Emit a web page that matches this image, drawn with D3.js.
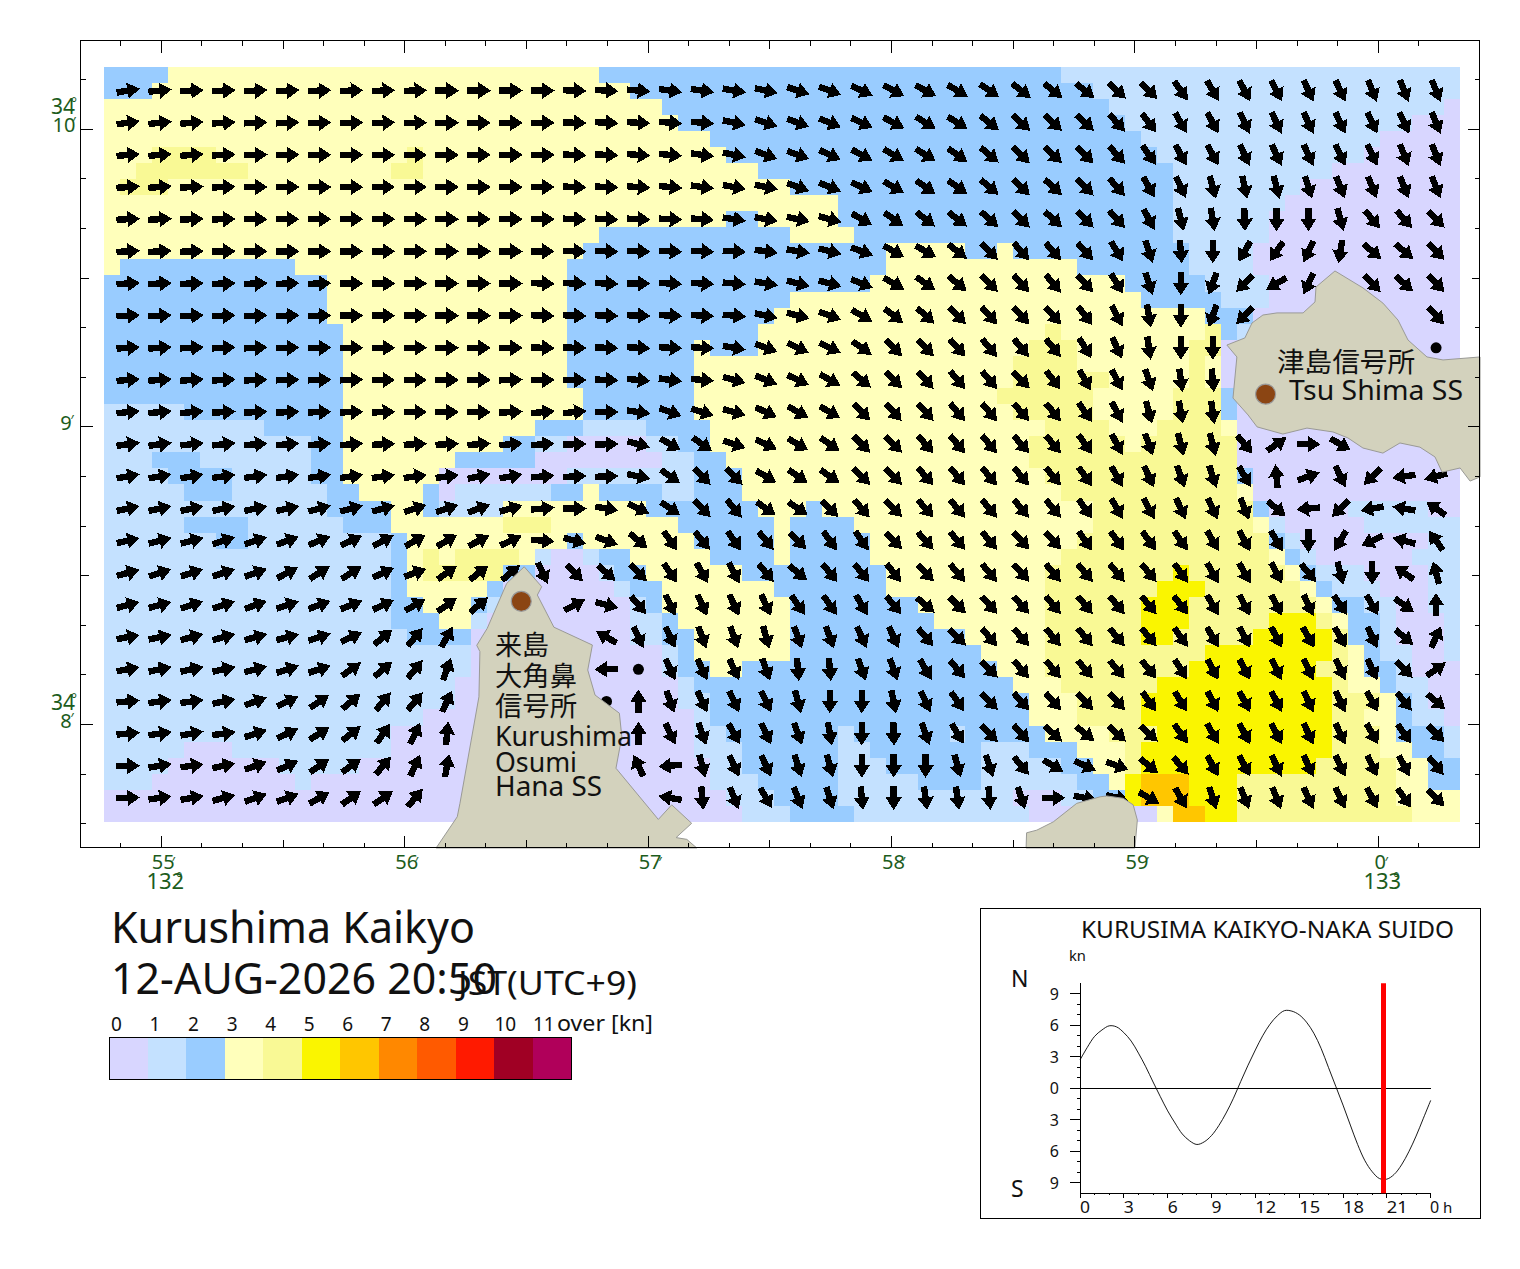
<!DOCTYPE html>
<html><head><meta charset="utf-8">
<script src="https://cdnjs.cloudflare.com/ajax/libs/d3/7.8.5/d3.min.js"></script>
<style>
html,body{margin:0;padding:0;background:#fff}
svg{display:block}
text{font-family:"Noto Sans",sans-serif;fill:#111}
.jp{font-family:"Noto Sans CJK JP",sans-serif}
.geo{fill:#1c5c1c}
</style></head><body><svg id="c" width="1520" height="1269"></svg>
<script>
// Current-speed classes, one string per grid row: "class:endColumn" runs
const speedRuns = [
"2:4,3:31,2:60,1:85","2:3,3:33,2:62,1:85","3:35,2:63,1:84,0:85","3:36,2:64,1:82,0:85","3:38,2:65,1:80,0:85",
"3:3,4:7,3:19,4:20,3:39,2:66,1:79,0:85","3:2,4:9,3:18,4:20,3:41,2:67,1:77,0:85","3:1,4:4,3:43,2:67,1:75,0:85",
"3:46,2:67,1:74,0:85","3:39,2:41,3:46,2:67,1:73,0:85","3:31,2:43,3:47,2:67,1:73,0:85",
"3:30,2:49,3:54,2:56,3:57,2:68,1:72,0:85","3:1,2:12,3:29,2:49,3:61,2:68,1:72,0:85","2:14,3:29,2:48,3:64,2:69,1:73,0:85",
"2:14,3:29,2:43,3:65,2:70,1:73,0:85","2:14,3:29,2:42,3:69,2:72,0:85",
"2:15,3:29,2:41,3:59,4:60,3:69,4:70,2:71,1:72,0:85","2:15,3:29,2:37,3:38,2:41,3:58,4:61,3:68,4:70,0:85",
"2:15,3:29,2:37,3:57,4:61,3:68,4:69,3:70,0:85","2:15,3:29,2:37,3:57,4:63,3:68,4:69,3:70,0:85",
"2:15,3:30,2:37,3:56,4:62,3:67,4:70,2:71,0:85","1:5,2:15,3:30,2:37,3:57,4:62,3:67,4:70,2:71,0:85",
"1:10,2:15,3:27,2:30,1:34,2:38,3:59,4:63,3:66,4:70,3:71,0:85","1:13,2:15,3:25,2:27,1:29,0:34,1:36,2:38,3:58,4:64,3:65,4:71,0:85",
"1:3,2:6,1:13,2:15,3:22,2:27,0:35,1:37,2:39,3:58,4:71,0:85","1:4,2:8,1:13,2:15,3:21,0:29,1:37,2:40,3:59,4:71,2:72,0:85",
"1:5,2:8,1:14,2:16,3:20,2:21,0:22,1:28,2:30,3:31,2:35,1:37,2:40,3:60,4:71,3:72,0:85",
"1:14,2:18,3:20,2:21,1:25,3:34,2:41,3:44,2:45,3:62,4:72,2:73,0:78,1:83,0:85",
"1:5,2:9,1:15,2:18,3:25,4:28,3:36,2:42,3:43,2:47,3:62,4:72,3:73,1:74,0:79,1:85",
"1:7,2:9,1:18,2:19,3:29,2:30,3:37,2:42,3:43,2:48,3:61,4:73,2:74,1:75,0:83,1:85",
"1:18,2:19,3:20,4:21,3:22,4:26,3:27,1:28,0:30,1:31,2:33,3:38,2:42,3:43,2:48,3:60,4:73,3:74,2:75,1:76,0:82,1:85",
"1:18,2:19,3:20,4:25,2:27,0:31,1:32,2:34,3:40,2:49,3:59,4:67,5:68,4:74,3:75,2:76,1:79,0:83,1:85",
"1:18,2:19,3:24,2:25,0:32,1:33,2:35,3:42,2:49,3:59,4:66,5:69,4:75,3:76,2:77,1:80,0:83,1:85",
"1:18,2:20,3:23,2:24,1:25,0:33,1:34,2:35,3:43,2:51,3:59,4:65,5:68,4:76,3:77,2:79,1:81,0:83,1:85",
"1:18,2:21,3:23,1:24,0:33,1:35,2:36,3:43,2:52,3:59,4:65,5:68,4:73,5:76,4:77,3:78,2:80,1:81,0:84,1:85",
"1:19,2:23,0:33,1:35,2:37,3:43,2:54,3:59,4:65,5:67,4:72,5:77,4:78,2:80,1:81,0:84,1:85",
"1:23,0:35,1:36,2:37,3:43,2:55,3:59,4:69,5:77,4:78,3:79,2:80,1:82,0:84,1:85",
"1:23,0:35,1:36,2:38,3:40,2:56,3:59,4:68,5:76,4:78,3:79,2:81,1:82,0:85",
"1:22,0:36,1:37,2:57,3:60,4:66,5:77,4:78,3:80,2:81,1:83,0:85",
"1:22,0:36,1:38,2:58,3:61,4:65,5:77,4:80,3:81,2:82,1:83,0:85",
"1:20,0:37,1:38,2:58,3:61,4:65,5:77,4:79,3:81,2:82,1:84,0:85",
"1:18,0:37,1:39,2:46,1:47,2:53,1:54,2:59,3:63,4:66,5:77,4:80,3:81,2:84,1:85",
"1:5,0:8,1:18,0:37,1:40,2:46,1:48,2:55,1:58,2:61,3:64,4:65,5:77,4:80,3:82,2:84,1:85",
"1:4,0:11,1:16,0:38,1:40,2:46,1:49,2:55,1:60,2:62,3:64,4:65,5:76,4:81,3:83,2:85",
"1:3,0:12,1:13,0:38,1:41,2:46,1:51,2:55,1:61,2:63,3:64,5:65,6:68,5:71,4:81,3:83,2:85",
"0:39,1:42,2:46,1:57,0:60,1:62,2:64,5:65,6:68,5:71,4:81,3:85",
"0:40,1:43,2:47,1:58,0:66,3:67,6:69,5:71,4:82,3:85"
];
// Arrow directions in degrees clockwise from east; "." = no arrow (land), "o" = slack water
const arrowAngles = [
"-10 -6 -3 -3 -3 -3 -2 -2 -2 -1 0 0 0 0 2 3 5 8 8 10 12 18 20 25 28 28 30 35 38 38 38 42 45 55 60 62 62 65 65 68 68 68",
"-8 -6 -5 -4 -3 -3 -2 -2 -2 -1 0 0 0 0 2 3 3 5 5 12 18 20 22 25 28 32 32 38 42 42 42 48 52 60 62 65 65 65 65 65 65 68",
"-5 -5 -5 -3 -2 -2 0 0 0 0 0 0 0 0 2 3 4 5 8 12 20 20 25 28 30 32 35 40 45 42 45 48 55 62 62 65 65 65 65 65 68 68",
"-4 -4 -3 -2 0 0 0 0 0 0 0 0 0 0 3 3 4 5 8 10 12 20 22 25 30 35 35 40 45 42 45 48 60 65 75 78 75 72 68 68 68 68",
"-3 -3 -2 -1 0 0 0 0 0 0 0 0 0 0 3 3 3 3 4 8 10 12 15 30 35 38 38 42 45 42 45 48 62 75 80 88 90 90 75 50 48 45",
"-3 -3 -2 -1 0 0 0 0 0 0 0 0 0 0 2 2 2 3 3 3 8 10 15 20 30 30 38 45 48 48 48 58 72 85 90 120 125 115 100 40 40 45",
"-3 -3 -2 -2 -2 -2 -2 0 0 0 0 0 0 2 2 2 0 3 3 5 10 15 15 22 30 35 40 45 48 50 48 58 72 90 110 135 150 115 . 45 42 45",
"-3 -3 -3 -2 -2 -2 -2 0 0 0 0 0 0 2 2 2 2 3 3 5 12 15 20 30 38 42 45 48 48 48 52 62 80 90 110 135 . . . . . 48",
"-4 -4 -3 -3 -3 -2 -2 0 0 0 0 0 0 2 2 2 3 3 3 10 20 25 25 35 45 45 48 50 50 50 58 65 82 90 90 . . . . . . o",
"-5 -4 -4 -3 -3 -2 -2 -2 0 0 0 0 -2 0 0 2 5 8 5 15 22 25 30 40 45 48 50 50 45 52 60 62 70 82 85 . . . . . . .",
"-6 -5 -5 -3 -3 -3 -2 -2 -2 0 0 0 -3 -5 -5 0 8 20 18 15 25 30 30 45 48 48 50 50 48 50 55 62 75 80 82 . . . . . . .",
"-8 -8 -6 -6 -5 -5 -5 -5 -3 -3 -3 -4 -5 -5 -2 -2 15 30 35 18 25 30 35 45 45 48 50 50 48 50 55 62 70 75 75 50 -35 0 30 . . .",
"-10 -10 -10 -8 -8 -8 -8 -8 -8 -8 -8 -12 -10 -5 -3 -2 12 35 45 45 30 35 35 45 45 48 50 50 50 50 55 60 65 70 72 60 -95 -20 65 135 172 165",
"-12 -12 -12 -12 -12 -12 -15 -15 -15 -18 -18 -20 -15 -5 0 10 25 35 45 50 35 35 45 48 45 48 50 50 50 50 55 60 62 65 65 68 40 175 135 170 190 215",
"-12 -15 -15 -18 -18 -20 -22 -25 -28 -30 -30 -28 -25 5 15 20 40 55 50 55 50 45 55 55 45 48 50 50 48 48 55 55 55 55 60 62 60 90 120 155 195 235",
"-15 -18 -18 -18 -20 -28 -32 -32 -25 -20 -35 -38 -40 65 45 42 45 55 60 62 50 40 50 50 52 45 50 50 48 50 50 50 50 55 60 60 62 50 75 90 215 -105",
"-15 -15 -18 -18 -20 -18 -20 -22 -25 -30 -35 -40 . . -28 15 50 65 65 65 65 55 55 60 50 40 45 48 48 50 50 50 50 52 60 62 62 65 55 60 35 -90",
"-10 -12 -15 -15 -15 -15 -18 -25 -40 -50 -60 . . . . 210 65 65 70 70 75 70 70 65 65 50 45 50 48 50 50 50 50 55 60 62 62 60 60 65 40 -65",
"-10 -12 -12 -12 -15 -18 -18 -35 -40 -50 -70 . . . . 180 o 65 65 65 70 85 85 70 70 60 50 45 50 50 50 50 50 58 62 62 65 65 65 65 45 -35",
"-5 -8 -8 -12 -20 -25 -35 -40 -50 -50 -65 . . . . o -90 70 65 65 65 75 90 90 78 65 55 45 48 48 48 48 55 58 62 62 62 65 65 60 50 40",
"-5 -8 -10 -8 -18 -25 -32 -38 -55 -65 -85 . . . . . -90 65 70 60 65 70 80 90 88 70 60 45 48 42 38 42 42 55 60 62 62 65 65 60 55 45",
"0 -10 -8 -12 -20 -25 -35 -35 -50 -65 -80 . . . . . 245 175 75 65 65 72 75 90 90 90 75 72 50 30 25 20 40 48 62 62 65 65 65 65 62 50",
"-2 -8 -10 -15 -20 -20 -30 -35 -35 -50 . . . . . . . 190 85 68 60 68 72 85 90 82 82 85 72 0 10 15 30 60 72 68 68 65 65 62 55 45"
];
const speedLabels = ["0","1","2","3","4","5","6","7","8","9","10","11"];
const speedColors = ["#d8d6ff","#c4e1ff","#99ccff","#ffffbb","#f9f995","#faf500","#ffc600","#ff8800","#ff5a00","#ff1a00","#a00024","#b0005a"];
// Coastlines as [minutes of longitude past 132 deg, minutes of latitude past 34 deg]
const tsuShimaCoast = [[59.378,9.275],[59.452,9.299],[59.481,9.349],[59.526,9.376],[59.584,9.383],[59.691,9.383],[59.740,9.420],[59.744,9.470],[59.822,9.524],[59.937,9.467],[60.019,9.416],[60.081,9.359],[60.122,9.292],[60.200,9.235],[60.266,9.225],[60.418,9.235],[60.418,8.832],[60.377,8.818],[60.336,8.862],[60.262,8.848],[60.233,8.899],[60.171,8.932],[60.089,8.946],[60.019,8.912],[59.937,8.929],[59.875,8.963],[59.814,8.983],[59.707,8.996],[59.608,8.976],[59.502,9.000],[59.465,9.040],[59.403,9.097],[59.419,9.235]];
const kurushimaCoast = [[56.491,8.530],[56.563,8.463],[56.545,8.435],[56.613,8.327],[56.771,8.267],[56.752,8.183],[56.782,8.099],[56.882,8.038],[56.892,7.959],[56.868,7.853],[57.042,7.681],[57.097,7.730],[57.179,7.668],[57.115,7.620],[57.159,7.614],[57.200,7.585],[56.129,7.585],[56.216,7.690],[56.227,7.735],[56.305,8.093],[56.309,8.245],[56.296,8.266],[56.339,8.323],[56.419,8.474]];
const southCoast = [[58.553,7.585],[58.555,7.636],[58.597,7.645],[58.665,7.673],[58.761,7.735],[58.857,7.757],[58.884,7.760],[58.952,7.752],[58.993,7.730],[59.010,7.679],[59.000,7.585]];
const stations = [[59.537,9.110],[56.479,8.414]];
// Tidal-stream curve: hour of day and speed in knots (north positive)
const tideHours = [0,0.5,1,1.5,2,2.5,3,3.5,4,4.5,5,5.5,6,6.5,7,7.5,8,8.5,9,9.5,10,10.5,11,11.5,12,12.5,13,13.5,14,14.5,15,15.5,16,16.5,17,17.5,18,18.5,19,19.5,20,20.5,21,21.5,22,22.5,23,23.5,24];
const tideKnots = [2.7,3.9,4.95,5.55,5.95,5.85,5.3,4.5,3.35,2.05,0.6,-0.8,-2.15,-3.3,-4.35,-5,-5.35,-5.1,-4.5,-3.55,-2.35,-0.95,0.65,2.2,3.65,5,6.1,6.9,7.4,7.35,7,6.3,5.25,3.8,2,0.2,-1.6,-3.5,-5.35,-6.9,-7.95,-8.6,-8.65,-8.2,-7.3,-6.05,-4.55,-2.85,-1.15];
const nowHour = 20.77;
const lonLabels = [[55,"55"],[56,"56"],[57,"57"],[58,"58"],[59,"59"],[60,"0"]];
const latLabels = [[10,"10"],[9,"9"],[8,"8"]];

const svg = d3.select("#c");
const lonX = d3.scaleLinear().domain([55,60]).range([161.3,1378.3]);
const latY = d3.scaleLinear().domain([10,8]).range([129.3,724.5]);
const colX = d3.scaleLinear().domain([0,85]).range([104,1460]);
const rowY = d3.scaleLinear().domain([0,47]).range([66.5,822]);
const F = {l:81,r:1480,t:41,b:848};

// cells
const cells = [];
speedRuns.forEach((s,r)=>{let c0=0;s.split(",").forEach(p=>{const [v,e]=p.split(":").map(Number);cells.push({r,c0,c1:e,v});c0=e;});});
svg.append("g").attr("shape-rendering","crispEdges").selectAll("rect").data(cells).join("rect")
 .attr("x",d=>colX(d.c0)).attr("y",d=>rowY(d.r)).attr("width",d=>colX(d.c1)-colX(d.c0)).attr("height",d=>rowY(d.r+1)-rowY(d.r))
 .attr("fill",d=>speedColors[d.v]);

// arrows
const arrowPts = "-11.5,-3.2 -0.5,-3.2 -0.5,-8.2 12,0 -0.5,8.2 -0.5,3.2 -11.5,3.2";
const arrows = [];
arrowAngles.forEach((s,i)=>s.split(" ").forEach((a,j)=>{if(a!==".")arrows.push({i,j,a});}));
const ag = svg.append("g");
ag.selectAll("g").data(arrows).join("g")
 .attr("transform",d=>`translate(${colX(2*d.j+1.5)},${rowY(2*d.i+1.5)})`)
 .each(function(d){
   const g=d3.select(this);
   if(d.a==="o") g.append("circle").attr("r",5.5).attr("fill","#000");
   else g.append("polygon").attr("points",arrowPts).attr("fill","#000").attr("shape-rendering","crispEdges").attr("transform",`rotate(${+d.a})`);
 });

// land
const line = d3.line().x(d=>lonX(d[0])).y(d=>latY(d[1]));
svg.append("g").selectAll("path").data([tsuShimaCoast,kurushimaCoast,southCoast]).join("path")
 .attr("d",d=>line(d)+"Z").attr("fill","#d3d2bd").attr("stroke","#9a9a96").attr("stroke-width",1);
svg.selectAll("circle.st").data(stations).join("circle").attr("class","st")
 .attr("cx",d=>lonX(d[0])).attr("cy",d=>latY(d[1])).attr("r",10).attr("fill","#8b4513").attr("stroke","#999").attr("stroke-width",1.2);

// frame
svg.append("rect").attr("x",F.l-0.5).attr("y",F.t-0.5).attr("width",F.r-F.l).attr("height",F.b-F.t).attr("fill","none").attr("stroke","#000").attr("stroke-width",1).attr("shape-rendering","crispEdges");

// ticks
const tk = svg.append("g").attr("stroke","#000").attr("stroke-width",1).attr("shape-rendering","crispEdges");
const tl = k=> k%6===0?12:(k%3===0?8:5);
d3.range(-1,32).forEach(k=>{
  const x=lonX(55+k/6), L=tl(k+6);
  tk.append("line").attr("x1",x).attr("x2",x).attr("y1",F.t).attr("y2",F.t+L);
  tk.append("line").attr("x1",x).attr("x2",x).attr("y1",F.b).attr("y2",F.b-L);
});
d3.range(-1,15).forEach(k=>{
  const y=latY(10-k/6), L=tl(k+6);
  tk.append("line").attr("y1",y).attr("y2",y).attr("x1",F.l).attr("x2",F.l+L);
  tk.append("line").attr("y1",y).attr("y2",y).attr("x1",F.r).attr("x2",F.r-L);
});

// geo labels
const G = svg.append("g");
function geo(x,y,t,fs,mark){
  G.append("text").attr("class","geo").attr("x",x).attr("y",y).attr("font-size",fs).attr("text-anchor","middle").text(t);
  G.append("text").attr("class","geo").attr("x",x+mark[0]).attr("y",y+mark[1]).attr("text-anchor","middle").attr("font-size",14).text(mark[2]);
}
lonLabels.forEach(([m,t])=>geo(lonX(m)+2,869,t,20,[t.length>1?10:6,-2,"\u2032"]));
geo(lonX(55)+4,888.5,"132",22,[14,-6,"\u00B0"]);
geo(lonX(60)+4,888.5,"133",22,[14,-6,"\u00B0"]);
geo(63,114,"34",21,[11,-6,"\u00B0"]);
geo(63,710,"34",21,[11,-6,"\u00B0"]);
latLabels.forEach(([m,t])=>geo(t.length>1?64:66,latY(m)+3,t,20,[t.length>1?10:6,-5,"\u2032"]));

// texts, stretched to the widths they have in the chart
const T=(x,y,t,fs,w,cl)=>{const e=svg.append("text").attr("x",x).attr("y",y).attr("font-size",fs).text(t);
  if(w)e.attr("textLength",w).attr("lengthAdjust","spacingAndGlyphs");if(cl)e.attr("class",cl);return e;};
T(1277,372,"津島信号所",27.5,138,"jp");
T(1289,400,"Tsu Shima SS",27,174);
T(495,655,"来島",27,54,"jp");
T(495,686,"大角鼻",27,82,"jp");
T(495,716,"信号所",27,82,"jp");
T(495,746,"Kurushima",27,137);
T(495,772,"Osumi",27,82);
T(495,796,"Hana SS",27,107);

// titles
T(111,943,"Kurushima Kaikyo",43,364);
T(111,994,"12-AUG-2026 20:50",43,386);
T(458,995,"JST(UTC+9)",33,179);

// legend
const legX = d3.scaleBand().domain(speedLabels).range([109,571.5]).padding(0);
svg.append("g").attr("shape-rendering","crispEdges").selectAll("rect").data(speedLabels).join("rect")
 .attr("x",d=>legX(d)).attr("y",1037).attr("width",legX.bandwidth()+0.5).attr("height",42).attr("fill",(d,i)=>speedColors[i]);
svg.append("rect").attr("x",109).attr("y",1037).attr("width",462.5).attr("height",42).attr("fill","none").attr("stroke","#000").attr("stroke-width",1).attr("shape-rendering","crispEdges");
svg.append("g").selectAll("text").data(speedLabels).join("text").attr("x",d=>legX(d)+(+d>9?0:2)).attr("y",1031).attr("font-size",19).text(d=>d);
T(557,1031,"over [kn]",22,96);

// tide panel
svg.append("rect").attr("x",980.5).attr("y",908.5).attr("width",499.5).attr("height",309.5).attr("fill","none").attr("stroke","#000").attr("stroke-width",1).attr("shape-rendering","crispEdges");
T(1081,938,"KURUSIMA KAIKYO-NAKA SUIDO",24,373);
T(1069,961,"kn",13.5,17);
T(1011,987,"N",23);
T(1011,1197,"S",23);
const hX = d3.scaleLinear().domain([0,24]).range([1080,1430.7]);
const kY = d3.scaleLinear().domain([10,-10]).range([983.3,1193.3]);
const ax = svg.append("g").attr("stroke","#000").attr("shape-rendering","crispEdges");
ax.append("line").attr("x1",hX(0)).attr("x2",hX(0)).attr("y1",kY(10)).attr("y2",kY(-10));
ax.append("line").attr("x1",hX(0)).attr("x2",hX(24)).attr("y1",kY(-10)).attr("y2",kY(-10));
ax.append("line").attr("x1",hX(0)).attr("x2",hX(24)).attr("y1",kY(0)).attr("y2",kY(0));
d3.range(-9,10).forEach(k=>{ax.append("line").attr("x1",hX(0)-(k%3===0?10:3)).attr("x2",hX(0)).attr("y1",kY(k)).attr("y2",kY(k));});
d3.range(0,25).forEach(h=>{ax.append("line").attr("x1",hX(h)).attr("x2",hX(h)).attr("y1",kY(-10)).attr("y2",kY(-10)+(h%3===0?5:2));});
svg.append("g").selectAll("text").data([9,6,3,0,-3,-6,-9]).join("text").attr("x",1059).attr("y",d=>kY(d)+6).attr("text-anchor","end").attr("font-size",16).text(d=>Math.abs(d));
svg.append("g").selectAll("text").data(d3.range(0,24,3)).join("text").attr("x",d=>hX(d)).attr("y",1213).attr("font-size",16).attr("textLength",d=>d>9?21:10).attr("lengthAdjust","spacingAndGlyphs").text(d=>d);
T(1430,1213,"0",16);T(1443,1213,"h",15);
svg.append("path").datum(tideHours.map((h,i)=>[h,tideKnots[i]])).attr("d",d3.line().curve(d3.curveCatmullRom).x(d=>hX(d[0])).y(d=>kY(d[1]))).attr("fill","none").attr("stroke","#000").attr("stroke-width",0.9);
svg.append("line").attr("x1",hX(nowHour)).attr("x2",hX(nowHour)).attr("y1",kY(10)).attr("y2",kY(-10)).attr("stroke","#ff0000").attr("stroke-width",5);
</script></body></html>
